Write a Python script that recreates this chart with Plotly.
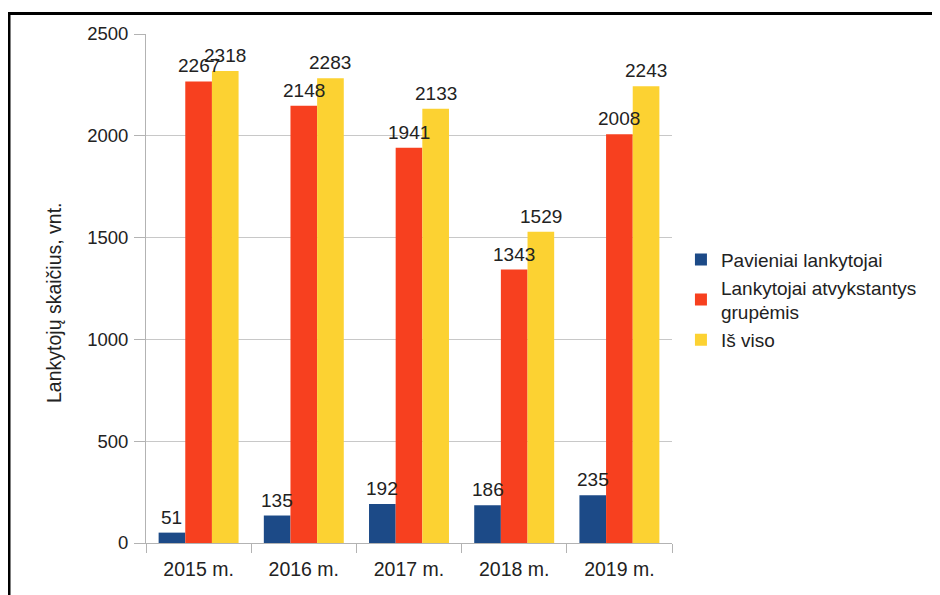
import plotly.graph_objects as go

categories = ["2015 m.", "2016 m.", "2017 m.", "2018 m.", "2019 m."]
pavieniai = [51, 135, 192, 186, 235]
grupemis = [2267, 2148, 1941, 1343, 2008]
is_viso = [2318, 2283, 2133, 1529, 2243]
series_names = ["Pavieniai lankytojai", "Lankytojai atvykstantys<br>grupėmis", "Iš viso"]
colors = ["#1c4a87", "#f7401f", "#fcd232"]
y_ticks = [0, 500, 1000, 1500, 2000, 2500]
y_title = "Lankytojų skaičius, vnt."

font_family = "Liberation Sans, Arial, sans-serif"
text_col = "#222222"

# page has an 8px body margin: figure coords = screen coords - 8
L, T, PW, PH = 146 - 8, 34 - 8, 526, 509
W, H = 932, 587
BARGAP = 0.24

fig = go.Figure()
series = [pavieniai, grupemis, is_viso]
for name, vals, col in zip(series_names, series, colors):
    fig.add_trace(go.Bar(
        x=categories, y=vals, name=name,
        marker=dict(color=col, line=dict(width=0)),
    ))

# value labels as annotations so they sit above all bars
cat_px = PW / len(categories)
bar_px = cat_px * (1 - BARGAP) / len(series)
for si, vals in enumerate(series):
    shift = (si - (len(series) - 1) / 2) * bar_px
    for c, v in zip(categories, vals):
        fig.add_annotation(x=c, y=v, text=str(v), showarrow=False, xshift=shift,
                           yanchor="bottom", yshift=3,
                           font=dict(size=19, color=text_col, family=font_family))

fig.update_layout(
    width=W, height=H,
    margin=dict(l=L, r=W - L - PW, t=T, b=H - T - PH, pad=0),
    paper_bgcolor="white", plot_bgcolor="white",
    barmode="group", bargap=BARGAP, bargroupgap=0,
    font=dict(family=font_family, size=19, color=text_col),
    showlegend=True,
    legend=dict(x=1.017, y=0.478, xanchor="left", yanchor="middle",
                font=dict(size=19, color=text_col), itemwidth=30,
                tracegroupgap=0, bgcolor="rgba(0,0,0,0)"),
    yaxis=dict(range=[0, 2500], tickvals=y_ticks, showgrid=True, gridcolor="#c8c8c8",
               gridwidth=1, showline=True, linecolor="#b3b3b3", linewidth=1,
               ticks="outside", ticklen=11, tickcolor="#b3b3b3", zeroline=False,
               ticklabelstandoff=2,
               tickfont=dict(size=18.5, color=text_col)),
    xaxis=dict(showline=True, linecolor="#b3b3b3", linewidth=1, ticks="outside",
               tickson="boundaries", ticklen=9, tickcolor="#b3b3b3",
               ticklabelstandoff=9,
               tickfont=dict(size=19.5, color=text_col)),
)

fig.add_annotation(text=y_title, textangle=-90, xref="paper", yref="paper",
                   x=(54 - 146) / PW, y=(543 - 303) / PH, showarrow=False,
                   xanchor="center", yanchor="middle",
                   font=dict(size=19.5, color=text_col, family=font_family))

fig.add_shape(type="rect", xref="paper", yref="paper",
              x0=(9 - 146) / PW, x1=(960 - 146) / PW,
              y0=(543 - 620) / PH, y1=(543 - 13.5) / PH,
              line=dict(color="black", width=3), fillcolor="rgba(0,0,0,0)", layer="above")

fig.write_html("out.html")
